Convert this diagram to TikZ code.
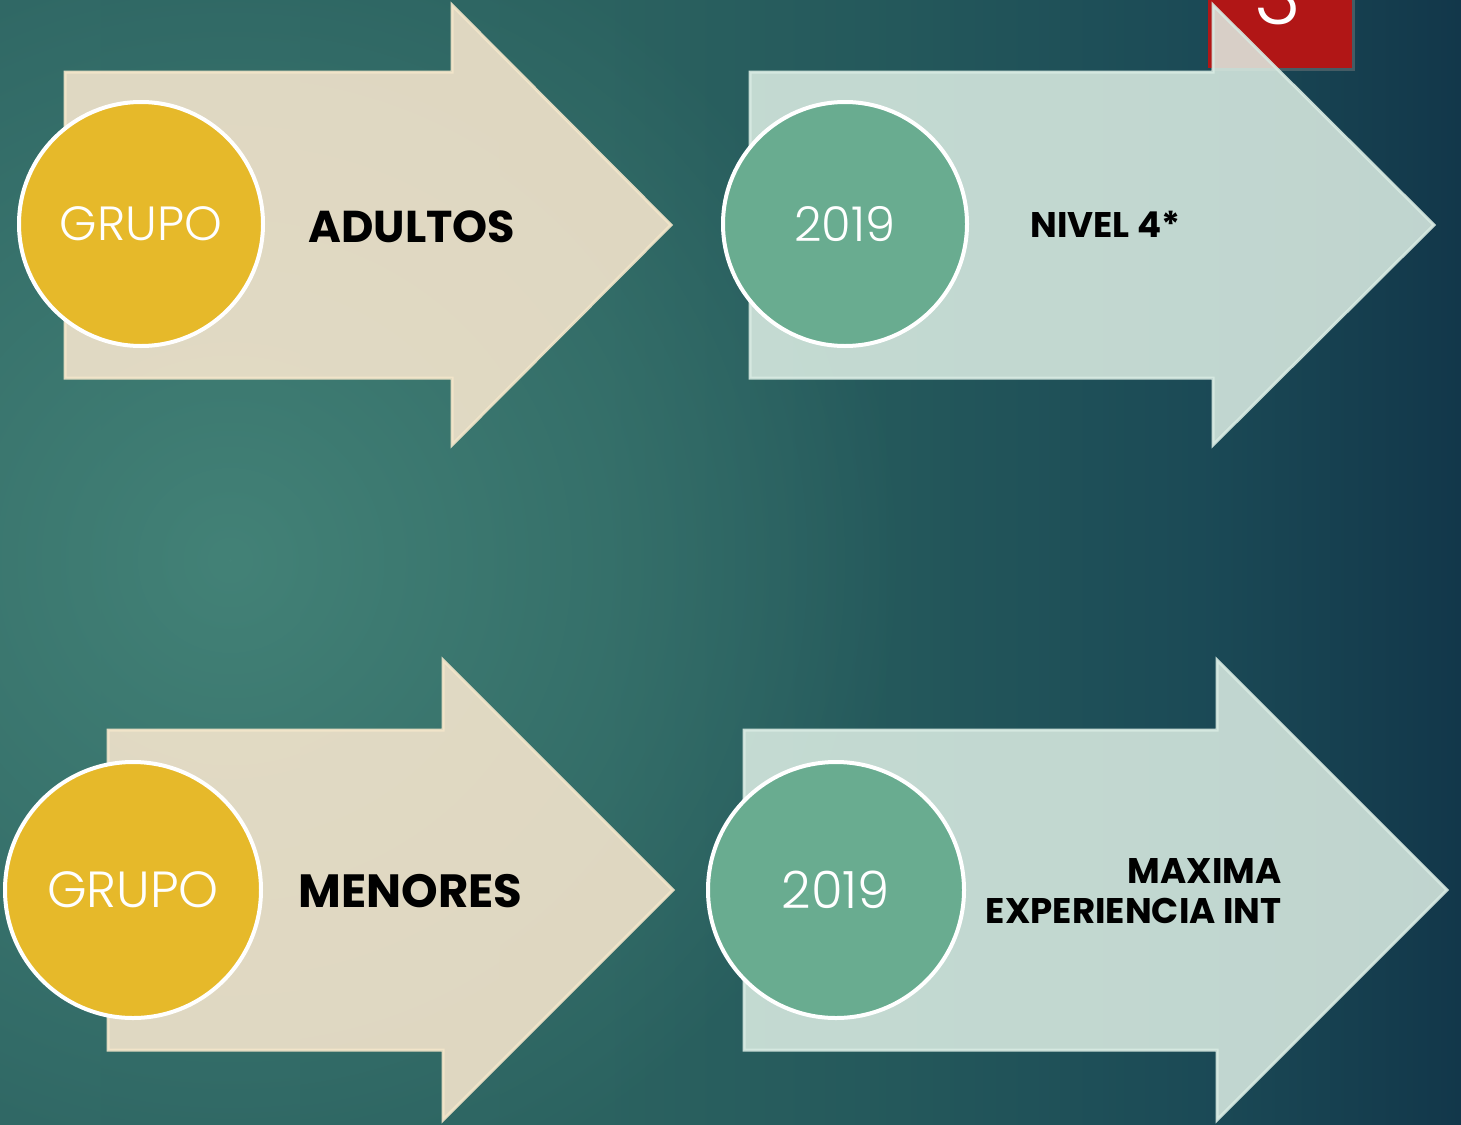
\documentclass[tikz,border=0pt]{standalone}
\usepackage{fontspec}
\setmainfont{Poppins}
\newfontfamily\lightf{Poppins Light}
\usetikzlibrary{shadows,fadings}
\definecolor{bga}{HTML}{2E6563}
\definecolor{bgb}{HTML}{2B6260}
\definecolor{bgc}{HTML}{24585B}
\definecolor{bgd}{HTML}{1B4A56}
\definecolor{bge}{HTML}{12374A}
\definecolor{glowc}{HTML}{438277}
\definecolor{beigefill}{HTML}{FEEBD2}
\definecolor{beigeline}{HTML}{F3E6CA}
\definecolor{tealfill}{HTML}{DFF0E6}
\definecolor{tealline}{HTML}{D8EAE2}
\definecolor{gold}{HTML}{E6B92A}
\definecolor{sage}{HTML}{69AC90}
\definecolor{slidered}{HTML}{B11616}
\pgfdeclarehorizontalshading{bgsh}{100bp}{color(0bp)=(bga); color(25bp)=(bga); color(45.5bp)=(bgb); color(55.8bp)=(bgc); color(66bp)=(bgd); color(75bp)=(bge); color(100bp)=(bge)}
\tikzfading[name=glowfade, inner color=transparent!0, outer color=transparent!100]
\tikzset{
  beigearrow/.style={fill=beigefill, fill opacity=0.85, draw=beigeline, draw opacity=0.9, line width=1.5pt, line join=miter},
  tealarrow/.style={fill=tealfill, fill opacity=0.85, draw=tealline, draw opacity=0.9, line width=1.5pt, line join=miter},
  disc/.style={circle, draw=white, line width=2pt, inner sep=0pt, text=white},
  label/.style={inner sep=0pt, text=black, font=\bfseries},
}
\begin{document}
\begin{tikzpicture}[x=0.5pt,y=-0.5pt]
\useasboundingbox (0,0) rectangle (1461,1124);
\clip (0,0) rectangle (1461,1124);
\shade[shading=bgsh] (0,0) rectangle (1461,1124);
\fill[glowc, path fading=glowfade] (230,560) circle (680);

% slide number box
\path[fill=slidered, drop shadow={opacity=0.45, shadow xshift=1.5pt, shadow yshift=-1.5pt}] (1208,-20) rectangle (1352,68);
\node[anchor=base, text=white, inner sep=0pt, font=\lightf\fontsize{40}{40}\selectfont] (num) at (1278,25) {3};

% arrows
\path[beigearrow] (65,72) -- (452,72) -- (452,5) -- (671,225) -- (452,445) -- (452,378) -- (65,378) -- cycle;
\path[tealarrow] (750,72) -- (1213,72) -- (1213,5) -- (1434,225) -- (1213,445) -- (1213,378) -- (750,378) -- cycle;
\path[beigearrow] (108,730) -- (443,730) -- (443,660) -- (673,890) -- (443,1120) -- (443,1050) -- (108,1050) -- cycle;
\path[tealarrow] (744,730) -- (1217,730) -- (1217,660) -- (1447,890) -- (1217,1120) -- (1217,1050) -- (744,1050) -- cycle;

% circles
\node[disc, fill=gold, minimum size=122pt, font=\lightf\fontsize{24}{24}\selectfont] (c1) at (141,224) {GRUPO};
\node[disc, fill=sage, minimum size=122pt, font=\lightf\fontsize{24}{24}\selectfont] (c2) at (845,224) {2019};
\node[disc, fill=gold, minimum size=128pt, font=\lightf\fontsize{25.4}{25.4}\selectfont] (c3) at (133,890) {GRUPO};
\node[disc, fill=sage, minimum size=128pt, font=\lightf\fontsize{25.7}{25.7}\selectfont] (c4) at (836,890) {2019};

% labels
\node[label, anchor=base west, font=\bfseries\fontsize{22.3}{22.3}\selectfont] (t1) at (308,242) {ADULTOS};
\node[label, anchor=base west, font=\bfseries\fontsize{17.8}{17.8}\selectfont] (t2) at (1030,237) {NIVEL 4*};
\node[label, anchor=base west, font=\bfseries\fontsize{23.3}{23.3}\selectfont] (t3) at (298,907) {MENORES};
\node[label, anchor=base east, font=\bfseries\fontsize{17.8}{17.8}\selectfont] (t4a) at (1282,883) {MAXIMA};
\node[label, anchor=base east, font=\bfseries\fontsize{17.8}{17.8}\selectfont] (t4b) at (1282,923) {EXPERIENCIA INT};
\end{tikzpicture}
\end{document}
